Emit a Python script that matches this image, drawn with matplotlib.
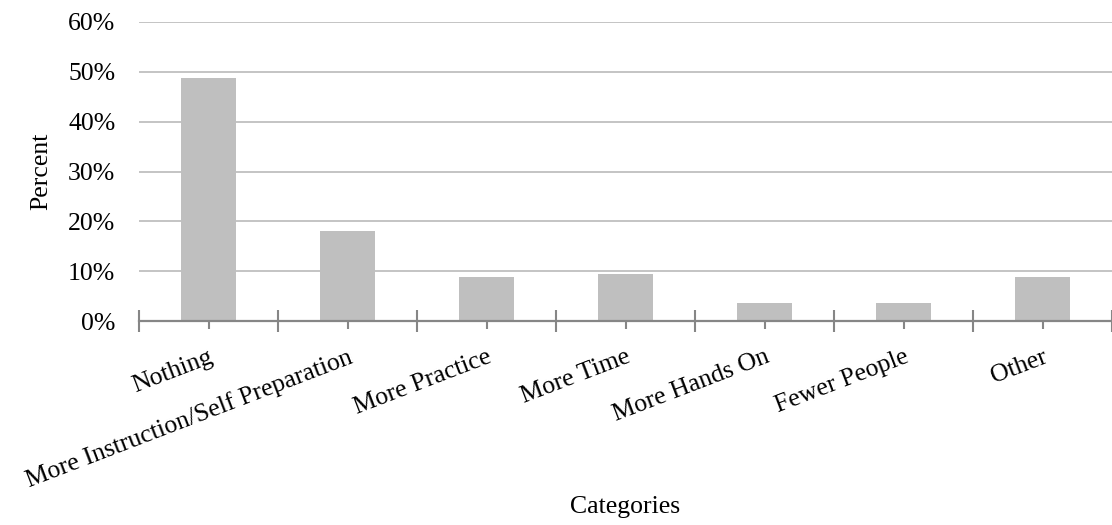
import matplotlib.pyplot as plt
from matplotlib.ticker import FuncFormatter
import numpy as np

categories = [
    "Nothing",
    "More Instruction/Self Preparation",
    "More Practice",
    "More Time",
    "More Hands On",
    "Fewer People",
    "Other",
]
percent = [48.7, 18.1, 8.8, 9.4, 3.6, 3.6, 8.8]

plt.rcParams['font.family'] = ['Liberation Serif', 'DejaVu Serif']

fig = plt.figure(figsize=(11.12, 5.25), dpi=100)
# plot area runs a little past the right edge, like the reference
ax = fig.add_axes([139 / 1112, 1 - 321 / 525, 1 - 139 / 1112, 299 / 525])

x = np.arange(len(categories))
ax.bar(x, percent, width=0.4, color='#BFBFBF', zorder=3)

ax.set_ylim(0, 60)
ax.set_xlim(-0.5, 6.465)
ax.set_yticks(range(0, 61, 10))
ax.yaxis.set_major_formatter(FuncFormatter(lambda v, p: f"{int(v)}%"))
ax.grid(axis='y', color='#BFBFBF', linewidth=1.3, zorder=0)
ax.set_axisbelow(True)

for s in ['top', 'right', 'left']:
    ax.spines[s].set_visible(False)
ax.spines['bottom'].set_color('#868686')
ax.spines['bottom'].set_linewidth(1.6)
ax.spines['bottom'].set_zorder(4)

ax.tick_params(axis='y', length=0, labelsize=18.5, pad=17)
ax.set_xticks(x)
ax.set_xticklabels(categories, rotation=21, ha='right', va='top',
                   rotation_mode='anchor', fontsize=18.5)
ax.tick_params(axis='x', direction='inout', length=12, width=1.5,
               color='#868686', pad=12)

# separator ticks between categories
ax.set_xticks(np.arange(-0.5, len(categories), 1.0), minor=True)
ax.tick_params(axis='x', which='minor', direction='inout', length=16,
               width=1.5, color='#868686')

ax.set_ylabel('Percent', fontsize=18.5)
ax.yaxis.set_label_coords(-0.089, 0.5)
ax.set_xlabel('Categories', fontsize=18.5)
ax.xaxis.set_label_coords(0.5, -0.585)

fig.savefig('out.png', dpi=100)
